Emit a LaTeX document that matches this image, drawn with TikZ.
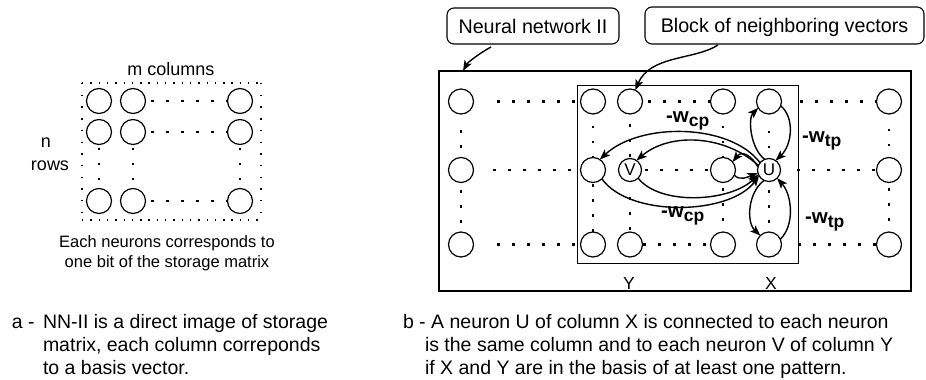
\documentclass[tikz,border=0pt]{standalone}
\usepackage{fontspec}
\setmainfont{Liberation Sans}
\usetikzlibrary{arrows.meta}
\begin{document}
\begin{tikzpicture}[x=1pt,y=-1pt,
  every node/.style={inner sep=0pt,outer sep=0pt},
  neuron/.style={circle,draw,line width=1.2pt,minimum size=25pt},
  keyneuron/.style={neuron,minimum size=23pt,font=\fontsize{17}{17}\selectfont},
  dotrow/.style={line width=2.9pt,dash pattern=on 2.9pt off 12.1pt},
  hframe/.style={line width=1.4pt,dash pattern=on 1.4pt off 6.9pt},
  vframe/.style={line width=1.4pt,dash pattern=on 1.4pt off 10.3pt},
  link/.style={line width=1.4pt,-{Stealth[length=10.5pt,width=8pt,inset=2.5pt]}},
  callout/.style={draw,rounded corners=7pt,line width=1.1pt,
    font=\fontsize{19.7}{20}\selectfont,text depth=0pt},
  weight/.style={font=\fontsize{20.5}{20.5}\selectfont\bfseries,anchor=base west},
  lbl/.style={font=\fontsize{18}{18}\selectfont,anchor=base},
  note/.style={font=\fontsize{16.5}{16.5}\selectfont,anchor=base},
  caption/.style={font=\fontsize{19.5}{20}\selectfont,anchor=base west}]

\useasboundingbox (0,0) rectangle (926,380);

% ---------- left panel: the n x m neuron matrix ----------
\foreach \r/\y in {1/101,2/132,3/201}
  \foreach \c/\x in {1/99,2/133,3/240}
    \node[neuron] (l\r\c) at (\x,\y) {};

\foreach \r in {1,2,3}
  \draw[dotrow,shorten <=5.5pt] (l\r2) -- (l\r3);
\foreach \c in {1,2,3}
  \draw[dotrow,shorten <=3pt] (l2\c) -- (l3\c);

\draw[hframe] (82,83) -- (261,83) (82,220) -- (261,220);
\draw[vframe] (82,83) -- (82,220) (261,83) -- (261,220);

\node[lbl] (mcol) at (171,75) {m columns};
\node[lbl] (nlab) at (46,147) {n};
\node[lbl] (rowlab) at (50,170) {rows};
\node[note] (each1) at (167,247) {Each neurons corresponds to};
\node[note] (each2) at (167,267) {one bit of the storage matrix};

% ---------- right panel: network NN-II ----------
\node[draw,line width=1.4pt,minimum width=472pt,minimum height=220pt] (net) at (675,181) {};
\node[draw,line width=0.9pt,minimum width=221pt,minimum height=178pt] (block) at (687.5,174) {};

\foreach \n/\x/\y in {a1/461/101.5,a2/461/170,a3/461/244.5,
                      b1/593/101.5,b2/593/170,b3/593/244.5,
                      v1/630/101.5,v3/630/244.5,
                      c1/723/101.5,c2/723/170,c3/723/244.5,
                      u1/769/101.5,u3/769/244.5,
                      z1/889/101.5,z2/889/170,z3/889/244.5}
  \node[neuron] (\n) at (\x,\y) {};
\node[keyneuron] (V) at (630,170) {V};
\node[keyneuron] (U) at (769,170) {U};

% rows
\draw[dotrow,shorten <=23.5pt] (a1) -- (b1);
\draw[dotrow,shorten <=19.5pt] (a2) -- (b2);
\draw[dotrow,shorten <=23.5pt] (a3) -- (b3);
\draw[dotrow,shorten <=5.5pt] (v1) -- (c1);
\draw[dotrow,shorten <=3.5pt] (V) -- (c2);
\draw[dotrow,shorten <=0.5pt] (v3) -- (c3);
\draw[dotrow,shorten <=18.5pt] (u1) -- (z1);
\draw[dotrow,shorten <=16.5pt] (U) -- (z2);
\draw[dotrow,shorten <=16.5pt] (u3) -- (z3);
% columns
\draw[dotrow,shorten <=16pt] (a1) -- (a2);
\draw[dotrow,shorten <=7.5pt] (a2) -- (a3);
\draw[dotrow,shorten <=11.5pt] (b1) -- (b2);
\draw[dotrow,shorten <=1.5pt] (b2) -- (b3);
\draw[dotrow,shorten <=10pt] (v1) -- (V);
\draw[dotrow,shorten <=15.5pt] (V) -- (v3);
\draw[dotrow,shorten <=11.5pt] (c1) -- (c2);
\draw[dotrow,shorten <=5.5pt] (c2) -- (c3);
\draw[dotrow,shorten <=16.5pt] (u1) -- (U);
\draw[dotrow,shorten <=8.5pt] (U) -- (u3);
\draw[dotrow,shorten <=14.5pt] (z1) -- (z2);
\draw[dotrow,shorten <=5.5pt] (z2) -- (z3);

% connections of U
\draw[link] (U.141) .. controls (730,123) and (640,122) .. (b2.57);
\draw[link] (U.157) .. controls (725,135) and (670,132) .. (V.56);
\draw[link] (U.165) .. controls (752,156) and (742,150) .. (c2.40);
\draw[link] (c2.-25) .. controls (740,181) and (748,177) .. (U.195);
\draw[link] (V.-45) .. controls (660,206) and (730,202) .. (U.203);
\draw[link] (b2.-45) .. controls (630,218) and (730,215) .. (U.210);
\draw[link] (U.112) .. controls (750,148) and (748,118) .. (u1.211);
\draw[link] (u1.-20) .. controls (795,118) and (792,145) .. (U.55);
\draw[link] (U.245) .. controls (748,192) and (746,222) .. (u3.134);
\draw[link] (u3.25) .. controls (795,225) and (792,195) .. (U.-45);

\node[weight] (wcp1) at (666,122) {-w\raisebox{-4pt}{\fontsize{17.5}{17.5}\selectfont cp}};
\node[weight] (wcp2) at (661,217) {-w\raisebox{-4pt}{\fontsize{17.5}{17.5}\selectfont cp}};
\node[weight] (wtp1) at (802,142) {-w\raisebox{-4pt}{\fontsize{17.5}{17.5}\selectfont tp}};
\node[weight] (wtp2) at (805,223) {-w\raisebox{-4pt}{\fontsize{17.5}{17.5}\selectfont tp}};

\node[font=\fontsize{17.5}{17.5}\selectfont,anchor=base] (ylab) at (629,289) {Y};
\node[font=\fontsize{17.5}{17.5}\selectfont,anchor=base] (xlab) at (771,289) {X};

% callouts
\node[callout,minimum width=172pt,minimum height=36pt] (nn) at (533,26) {Neural network II};
\node[callout,minimum width=279pt,minimum height=37pt] (blk) at (784.5,25.5) {Block of neighboring vectors};
\coordinate (nntip) at (463,71);
\draw[link] ([xshift=-42pt,yshift=-3pt]nn.south) .. controls (480,53) and (468,62) .. (nntip);
\draw[link] ([xshift=-66.5pt,yshift=-1pt]blk.south) .. controls (695,60) and (650,55) .. (v1.65);

% captions
\node[caption] (capa0) at (12,328) {a -};
\node[caption] (capa1) at (43,328) {NN-II is a direct image of storage};
\node[caption] (capa2) at (43,351) {matrix, each column correponds};
\node[caption] (capa3) at (43,374) {to a basis vector.};
\node[caption] (capb1) at (403,328) {b - A neuron U of column X is connected to each neuron};
\node[caption] (capb2) at (425,351) {is the same column and to each neuron V of column Y};
\node[caption] (capb3) at (425,374) {if X and Y are in the basis of at least one pattern.};
\end{tikzpicture}
\end{document}
